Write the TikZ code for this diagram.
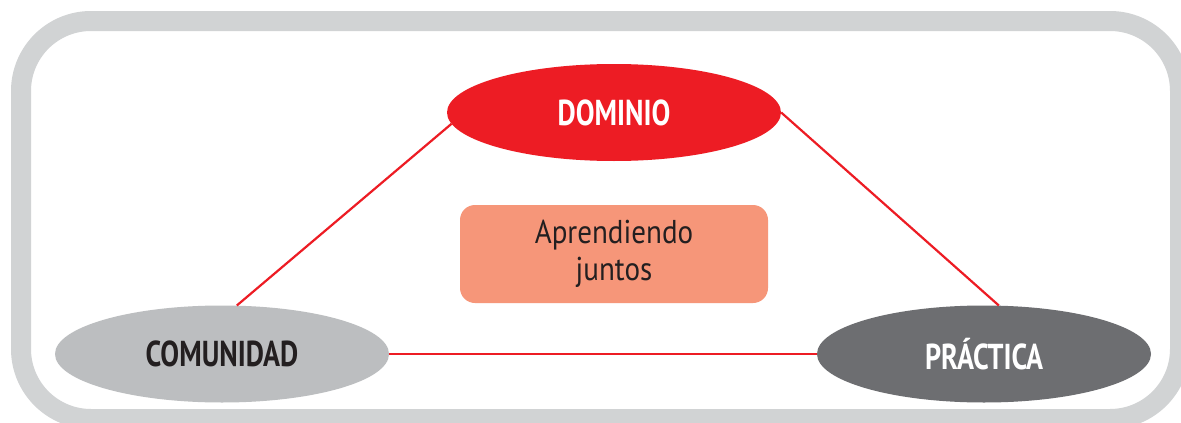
\documentclass[tikz,border=0pt]{standalone}
\usetikzlibrary{shapes.geometric}
\usepackage{fontspec}
\setmainfont{PT Sans}
\newfontfamily\labfont{PT Sans}[FakeStretch=0.78]
\newfontfamily\txtfont{PT Sans}[FakeStretch=0.88]
\definecolor{framegrey}{HTML}{D1D3D4}
\definecolor{domred}{HTML}{ED1C24}
\definecolor{comgrey}{HTML}{BCBEC0}
\definecolor{pragrey}{HTML}{6D6E71}
\definecolor{boxorange}{HTML}{F69679}
\definecolor{darktext}{HTML}{231F20}
\begin{document}
\begin{tikzpicture}[x=1pt,y=-1pt,
  oval/.style={ellipse, minimum width=334pt, minimum height=97pt, inner sep=0pt},
  ovaltext/.style={font=\labfont\bfseries\fontsize{36}{42}\selectfont},
  link/.style={draw=domred, line width=2.2pt}]
\useasboundingbox (0,0) rectangle (1181,423);
\fill[white] (0,0) rectangle (1181,423);
\begin{scope}
\clip (0,0) rectangle (1181,423);
\draw[framegrey, line width=20pt, rounded corners=70pt] (21,21) rectangle (1180,419);
\end{scope}
\node[oval, fill=domred, text=white, ovaltext] (dom) at (614,112.5) {DOMINIO};
\node[oval, fill=comgrey, text=darktext, ovaltext] (com) at (222,354) {COMUNIDAD};
\node[oval, fill=pragrey, text=white, ovaltext] (pra) at (984,354) {PRÁCTICA};
\node[fill=boxorange, rounded corners=15pt, minimum width=308pt, minimum height=98pt,
  text=darktext, align=center, font=\txtfont\fontsize{33}{37}\selectfont] (box) at (614,254) {Aprendiendo\\juntos};
\path[link] (dom.184) -- (com.73);
\path[link] (dom.0) -- (pra.73);
\path[link] (com.east) -- (pra.west);
\end{tikzpicture}
\end{document}
